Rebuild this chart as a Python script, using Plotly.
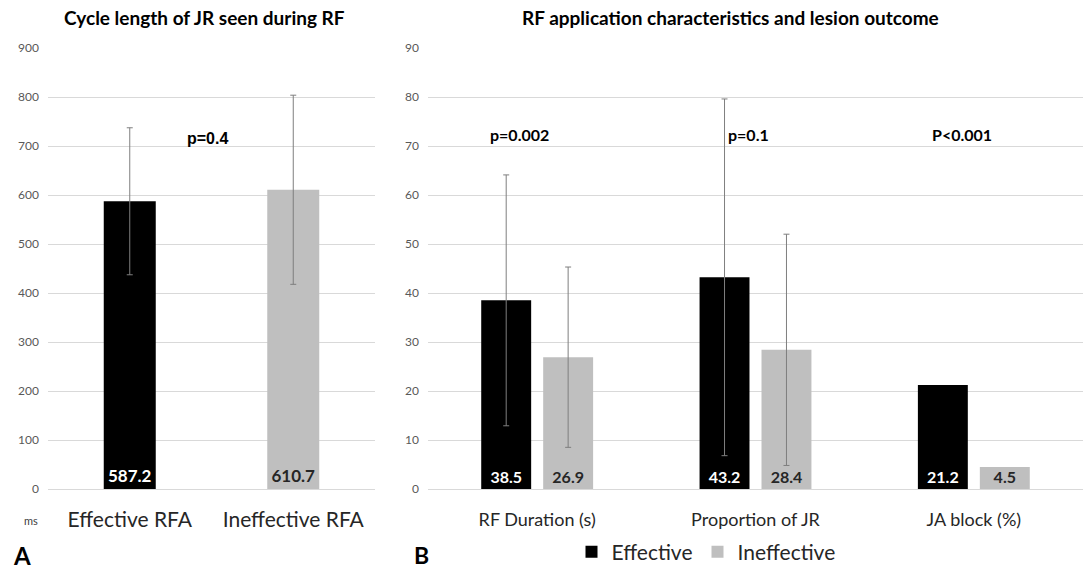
import plotly.graph_objects as go

# ---- data ----
left_categories = ["Effective RFA", "Ineffective RFA"]
left_values = [587.2, 610.7]
left_errors = [150, 193]

right_categories = ["RF Duration (s)", "Proportion of JR", "JA block (%)"]
effective_values = [38.5, 43.2, 21.2]
effective_errors = [25.6, 36.4]          # no error bar for JA block
ineffective_values = [26.9, 28.4, 4.5]
ineffective_errors = [18.4, 23.6]        # no error bar for JA block

left_pvalue = "p=0.4"
right_pvalues = ["p=0.002", "p=0.1", "P<0.001"]

BLACK = "#000000"
GRAY = "#BFBFBF"
ERR = "#7F7F7F"
FONT = "Lato"
W, H = 1084, 571

def px_x(p):
    return p / W

def px_y(p):
    return (H - p) / H

fig = go.Figure()

fig.add_trace(go.Bar(
    x=left_categories, y=left_values,
    marker=dict(color=[BLACK, GRAY], line=dict(width=0)),
    width=0.318,
    text=[f"{v:.1f}" for v in left_values],
    textposition="inside", insidetextanchor="start", constraintext="none",
    textfont=dict(family=FONT, size=17, color=["#FFFFFF", "#262626"], weight="bold"),
    error_y=dict(type="data", array=left_errors, visible=True, color=ERR, thickness=1, width=3),
    xaxis="x", yaxis="y", showlegend=False, hoverinfo="skip",
))

def right_bar(name, cats, vals, errs, color, tcolor, group, showlegend):
    kw = {}
    if errs is not None:
        kw["error_y"] = dict(type="data", array=errs, visible=True, color=ERR, thickness=1, width=3)
    return go.Bar(
        name=name, x=cats, y=vals, offsetgroup=group, legendgroup=group,
        showlegend=showlegend,
        marker=dict(color=color, line=dict(width=0)),
        text=[f"{v:.1f}" for v in vals],
        textposition="inside", insidetextanchor="start", constraintext="none",
        textfont=dict(family=FONT, size=16, color=tcolor, weight="bold"),
        xaxis="x2", yaxis="y2", hoverinfo="skip", **kw,
    )

n = len(effective_errors)
fig.add_trace(right_bar("Effective", right_categories[:n], effective_values[:n], effective_errors,
                        BLACK, "#FFFFFF", "eff", True))
fig.add_trace(right_bar("Effective", right_categories[n:], effective_values[n:], None,
                        BLACK, "#FFFFFF", "eff", False))
fig.add_trace(right_bar("Ineffective", right_categories[:n], ineffective_values[:n], ineffective_errors,
                        GRAY, "#262626", "ineff", True))
fig.add_trace(right_bar("Ineffective", right_categories[n:], ineffective_values[n:], None,
                        GRAY, "#262626", "ineff", False))

ydom = [px_y(489), px_y(48)]
axis_common_y = dict(
    showgrid=True, gridcolor="#D9D9D9", gridwidth=1,
    zeroline=True, zerolinecolor="#D9D9D9", zerolinewidth=1,
    showline=False, ticks="", automargin=False,
    tickfont=dict(family=FONT, size=12, color="#595959"),
    ticklabelstandoff=8, domain=ydom,
)
axis_common_x = dict(showgrid=False, zeroline=False, showline=False, ticks="",
                     automargin=False, type="category")

fig.update_layout(
    width=W, height=H,
    margin=dict(l=0, r=0, t=0, b=0, autoexpand=False),
    paper_bgcolor="white", plot_bgcolor="white",
    barmode="group", bargap=0.4325, bargroupgap=0.194,
    xaxis=dict(**axis_common_x, domain=[px_x(48), px_x(375)], anchor="y",
               categoryorder="array", categoryarray=left_categories,
               tickfont=dict(family=FONT, size=21, color="#262626"), ticklabelstandoff=16),
    yaxis=dict(**axis_common_y, range=[0, 900], dtick=100, anchor="x"),
    xaxis2=dict(**axis_common_x, domain=[px_x(428), px_x(1083)], anchor="y2",
                categoryorder="array", categoryarray=right_categories,
                tickfont=dict(family=FONT, size=18, color="#262626"), ticklabelstandoff=18),
    yaxis2=dict(**axis_common_y, range=[0, 90], dtick=10, anchor="x2"),
    legend=dict(orientation="h", x=px_x(706), xanchor="center", y=px_y(552), yanchor="middle",
                font=dict(family=FONT, size=21, color="#262626"),
                traceorder="normal"),
    font=dict(family=FONT),
)

def note(text, x, y, size, color="#000000", family=FONT):
    return dict(text=text, x=px_x(x), y=px_y(y), xref="paper", yref="paper",
                xanchor="center", yanchor="middle", showarrow=False,
                font=dict(family=family, size=size, color=color))

ann = [
    note("<b>Cycle length of JR seen during RF</b>", 204, 18, 19),
    note("<b>RF application characteristics and lesion outcome</b>", 730, 18, 19),
    note(f"<b>{left_pvalue}</b>", 207, 138, 16, family="Liberation Sans"),
]
for txt, xp in zip(right_pvalues, [519, 748, 962]):
    ann.append(note(f"<b>{txt}</b>", xp, 134, 16))
ann.append(note("ms", 31, 520, 11, "#404040"))
ann.append(note("<b>A</b>", 22, 555, 24))
ann.append(note("<b>B</b>", 421, 555, 23))
fig.update_layout(annotations=ann)

fig.write_html("out.html", post_script="document.body.style.margin='0';",
               config={"displayModeBar": False})
